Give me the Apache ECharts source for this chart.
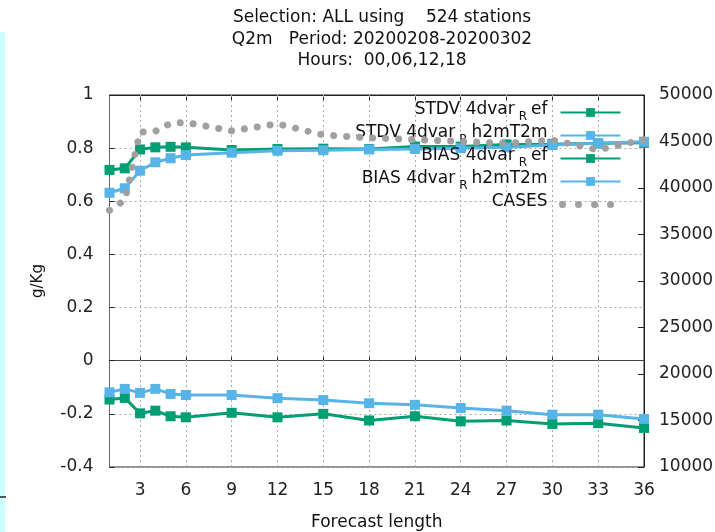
<!DOCTYPE html>
<html>
<head>
<meta charset="utf-8">
<script src="https://cdn.jsdelivr.net/npm/echarts@6/dist/echarts.min.js"></script>
<style>
  html, body { margin: 0; padding: 0; background: #fff; }
  #main { width: 715px; height: 532px; }
</style>
</head>
<body>
<div id="main"></div>
<script>
// forecast length (hours) of each point
var steps = [1, 2, 3, 4, 5, 6, 9, 12, 15, 18, 21, 24, 27, 30, 33, 36];
var xTicks = [3, 6, 9, 12, 15, 18, 21, 24, 27, 30, 33, 36];

var stdvRef  = [0.718, 0.724, 0.795, 0.803, 0.805, 0.803, 0.793, 0.797, 0.798, 0.797, 0.806, 0.806, 0.814, 0.815, 0.818, 0.820];
var stdvH2m  = [0.632, 0.649, 0.715, 0.747, 0.762, 0.774, 0.783, 0.790, 0.792, 0.795, 0.797, 0.800, 0.803, 0.812, 0.818, 0.824];
var biasRef  = [-0.146, -0.140, -0.198, -0.188, -0.209, -0.213, -0.196, -0.213, -0.200, -0.225, -0.209, -0.228, -0.225, -0.238, -0.235, -0.253];
var biasH2m  = [-0.119, -0.106, -0.121, -0.106, -0.125, -0.129, -0.129, -0.141, -0.148, -0.160, -0.166, -0.178, -0.188, -0.203, -0.203, -0.219];
var cases    = [37600, 38700, 46000, 46100, 46950, 47050, 46150, 46900, 45700, 45400, 45200, 45000, 44800, 45150, 44100, 45200];

var green = '#009e73';
var blue = '#56b4e9';
var grey = '#a0a0a0';
var font = 'DejaVu Sans';

function pairs(vals) {
  return steps.map(function (s, i) { return [s, vals[i]]; });
}

var myChart = echarts.init(document.getElementById('main'));

function lineSeries(name, vals, color) {
  return {
    name: name,
    type: 'line',
    data: pairs(vals),
    symbol: 'rect',
    symbolSize: 10,
    itemStyle: { color: color },
    lineStyle: { color: color, width: 3 },
    z: 3
  };
}

var s1 = lineSeries('STDV 4dvar_Ref', stdvRef, green);
// vertical dotted grid lines at the x tics
s1.markLine = {
  silent: true,
  symbol: 'none',
  label: { show: false },
  lineStyle: { color: '#aaa', type: [2, 3], width: 1 },
  data: xTicks.slice(0, -1).map(function (v) { return { xAxis: v }; }),
  z: 1
};

option = {
  animation: false,
  backgroundColor: '#fff',
  title: {
    text: 'Selection: ALL using    524 stations\nQ2m   Period: 20200208-20200302\nHours:  00,06,12,18',
    left: 377,
    top: 2,
    textAlign: 'center',
    textStyle: { fontFamily: font, fontSize: 17, fontWeight: 'normal', color: '#111', lineHeight: 21.5 }
  },
  legend: {
    orient: 'vertical',
    right: 91,
    top: 101,
    padding: 0,
    align: 'right',
    itemWidth: 60,
    itemHeight: 11,
    itemGap: 0,
    data: ['STDV 4dvar_Ref', 'STDV 4dvar_Rh2mT2m', 'BIAS 4dvar_Ref', 'BIAS 4dvar_Rh2mT2m',
      { name: 'CASES', itemStyle: { opacity: 0 },
        lineStyle: { color: grey, width: 7, type: [0.01, 16], dashOffset: -2, cap: 'round' } }],
    formatter: function (name) {
      var p = name.split('_R');
      if (p.length < 2) return '{a|' + name + '}{g|}';
      return '{a|' + p[0] + '}{s|R}{a|' + p[1] + '}{g|}';
    },
    textStyle: {
      rich: {
        a: { fontFamily: font, fontSize: 17, color: '#111', lineHeight: 14, padding: [0, 0, 6, 0] },
        s: { fontFamily: font, fontSize: 12, color: '#111', lineHeight: 12, padding: [8, 4, 0, 4] },
        g: { width: 8, lineHeight: 20 }
      }
    }
  },
  grid: {
    left: 109.5, right: 71, top: 95, bottom: 65,
    containLabel: false, outerBoundsMode: 'none',
    show: true, borderColor: '#222', borderWidth: 1
  },
  xAxis: [{
    type: 'value',
    min: 1,
    max: 36,
    name: 'Forecast length',
    nameLocation: 'middle',
    nameGap: 47,
    nameTextStyle: { fontFamily: font, fontSize: 17, color: '#111' },
    axisLine: { lineStyle: { color: '#444' } },
    axisTick: { inside: true, length: 5, customValues: xTicks, lineStyle: { color: '#222' } },
    axisLabel: { customValues: xTicks, margin: 15, fontFamily: font, fontSize: 17, color: '#222' },
    splitLine: { show: false }
  }, {
    type: 'value',
    position: 'top',
    min: 1,
    max: 36,
    axisLine: { lineStyle: { color: '#222' } },
    axisTick: { inside: true, length: 5, customValues: xTicks, lineStyle: { color: '#222' } },
    axisLabel: { show: false },
    splitLine: { show: false }
  }],
  yAxis: [{
    type: 'value',
    min: -0.4,
    max: 1,
    interval: 0.2,
    name: 'g/Kg',
    nameLocation: 'middle',
    nameGap: 64,
    nameTextStyle: { fontFamily: font, fontSize: 15, color: '#111' },
    axisLine: { show: true, lineStyle: { color: '#666' } },
    axisTick: { show: true, inside: true, length: 5, lineStyle: { color: '#222' } },
    axisLabel: { margin: 16, fontFamily: font, fontSize: 17, color: '#222' },
    splitLine: { show: true, lineStyle: { color: '#aaa', type: [2, 3] } }
  }, {
    type: 'value',
    min: 10000,
    max: 50000,
    interval: 5000,
    position: 'right',
    axisLine: { show: true, lineStyle: { color: '#222' } },
    axisTick: { show: true, inside: true, length: 6, lineStyle: { color: '#222' } },
    axisLabel: { margin: 15, fontFamily: font, fontSize: 17, color: '#222', formatter: function (v) { return String(v); } },
    splitLine: { show: false }
  }],
  series: [
    s1,
    lineSeries('STDV 4dvar_Rh2mT2m', stdvH2m, blue),
    lineSeries('BIAS 4dvar_Ref', biasRef, green),
    lineSeries('BIAS 4dvar_Rh2mT2m', biasH2m, blue),
    {
      name: 'CASES',
      type: 'line',
      yAxisIndex: 1,
      data: pairs(cases),
      showSymbol: false,
      symbol: 'none',
      itemStyle: { color: grey },
      lineStyle: { color: grey, width: 7, type: [0.01, 13], cap: 'round' },
      z: 4
    }
  ],
  graphic: [
    { type: 'rect', left: 0, top: 32, shape: { width: 5, height: 500 }, style: { fill: '#ccffff' }, silent: true },
    { type: 'line', shape: { x1: 0, y1: 497, x2: 6, y2: 497 }, style: { stroke: '#222', lineWidth: 1.5 }, silent: true }
  ]
};
myChart.setOption(option);
</script>
</body>
</html>
